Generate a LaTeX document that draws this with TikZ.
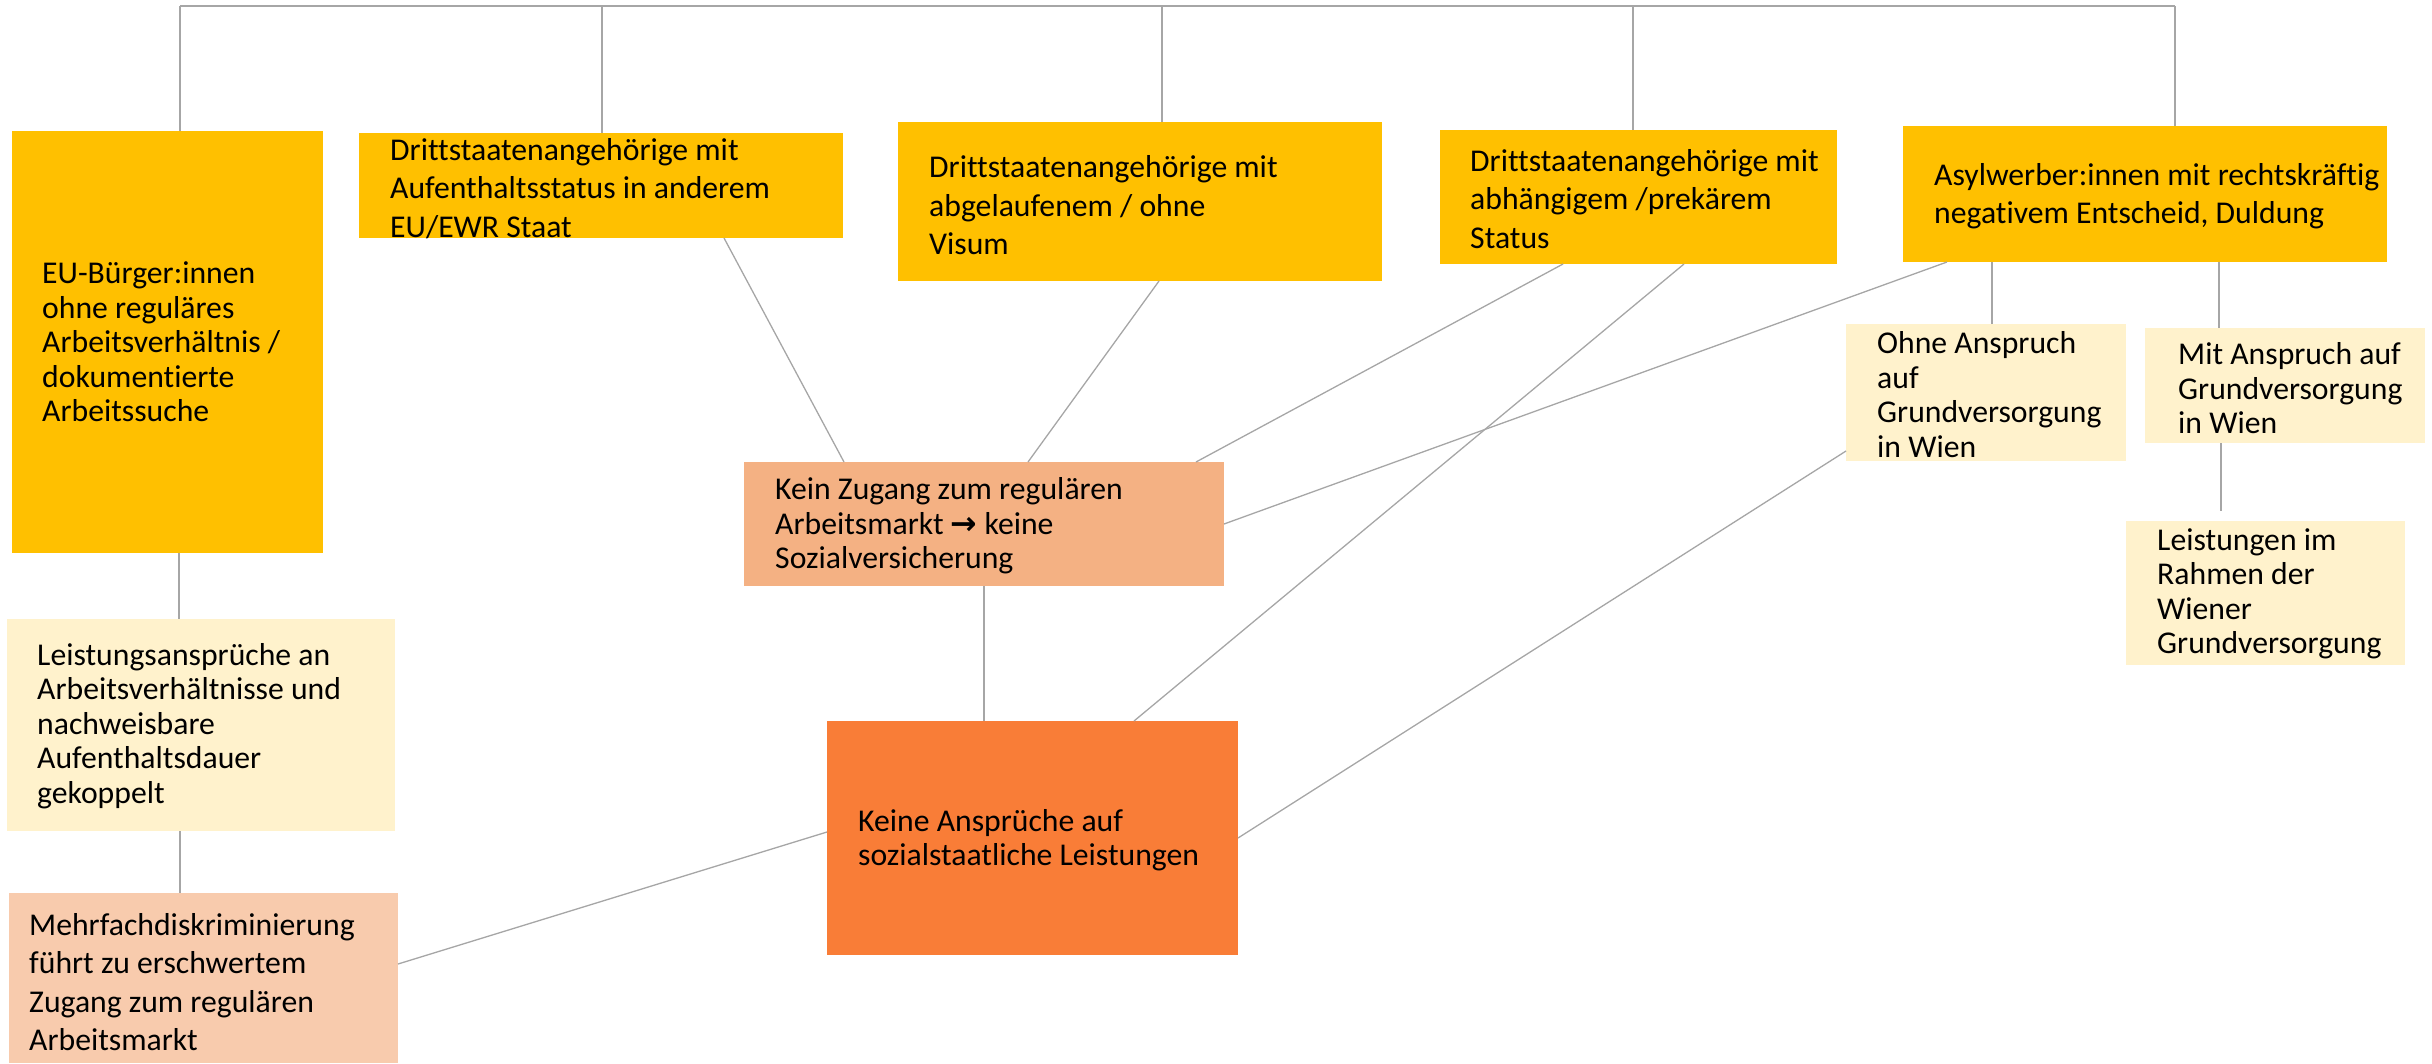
\documentclass[tikz,border=0pt]{standalone}
\usepackage{fontspec}
\setmainfont{Carlito}[Ligatures={NoCommon}]
\newfontfamily\arrowfont{DejaVu Sans}
\usetikzlibrary{calc}
\definecolor{gold}{HTML}{FFC000}
\definecolor{cream}{HTML}{FFF2CC}
\definecolor{peach}{HTML}{F4B183}
\definecolor{salmon}{HTML}{F8CBAD}
\definecolor{deeporange}{HTML}{F97D37}
\definecolor{linegray}{HTML}{A6A6A6}
\tikzset{
  box/.style={rectangle, inner sep=0pt, outer sep=0pt, anchor=north west, draw=none},
  lbl/.style={anchor=west, inner sep=0pt, align=left, font=\fontsize{31.7}{34.5}\selectfont},
  lblw/.style={lbl, font=\fontsize{31.7}{38.5}\selectfont},
  conn/.style={draw=linegray, line width=1.3pt},
  topbar/.style={draw=linegray, line width=2.4pt},
}
\begin{document}
\begin{tikzpicture}[x=1pt, y=-1pt]
\useasboundingbox (0,0) rectangle (2432,1063);

% boxes
\node[box, fill=gold, minimum width=311pt, minimum height=422pt] (eu) at (12,131) {};
\node[box, fill=gold, minimum width=484pt, minimum height=105pt] (d1) at (359,133) {};
\node[box, fill=gold, minimum width=484pt, minimum height=159pt] (d2) at (898,122) {};
\node[box, fill=gold, minimum width=397pt, minimum height=134pt] (d3) at (1440,130) {};
\node[box, fill=gold, minimum width=484pt, minimum height=136pt] (asyl) at (1903,126) {};
\node[box, fill=peach, minimum width=480pt, minimum height=124pt] (kz) at (744,462) {};
\node[box, fill=deeporange, minimum width=411pt, minimum height=234pt] (ka) at (827,721) {};
\node[box, fill=cream, minimum width=388pt, minimum height=212pt] (la) at (7,619) {};
\node[box, fill=salmon, minimum width=389pt, minimum height=170pt] (mf) at (9,893) {};
\node[box, fill=cream, minimum width=280pt, minimum height=137pt] (ohne) at (1846,324) {};
\node[box, fill=cream, minimum width=280pt, minimum height=115pt] (mit) at (2145,328) {};
\node[box, fill=cream, minimum width=279pt, minimum height=144pt] (lr) at (2126,521) {};

% texts
\node[lbl] (eut) at ([xshift=30pt]eu.west) {EU-Bürger:innen\\ohne reguläres\\Arbeitsverhältnis /\\dokumentierte\\Arbeitssuche};
\node[lblw] (d1t) at ([xshift=31pt,yshift=-3pt]d1.west) {Drittstaatenangehörige mit\\Aufenthaltsstatus in anderem\\EU/EWR Staat};
\node[lblw] (d2t) at ([xshift=31pt,yshift=-4pt]d2.west) {Drittstaatenangehörige mit\\abgelaufenem / ohne\\Visum};
\node[lblw] (d3t) at ([xshift=30pt,yshift=-2pt]d3.west) {Drittstaatenangehörige mit\\abhängigem /prekärem\\Status};
\node[lblw] (asylt) at ([xshift=31pt,yshift=-2pt]asyl.west) {Asylwerber:innen mit rechtskräftig\\negativem Entscheid, Duldung};
\node[lbl] (kzt) at ([xshift=31pt,yshift=-2pt]kz.west) {Kein Zugang zum regulären\\Arbeitsmarkt {\arrowfont\bfseries →} keine\\Sozialversicherung};
\node[lbl] (kat) at ([xshift=31pt,yshift=-2pt]ka.west) {Keine Ansprüche auf\\sozialstaatliche Leistungen};
\node[lbl] (lat) at ([xshift=30pt,yshift=-1pt]la.west) {Leistungsansprüche an\\Arbeitsverhältnisse und\\nachweisbare\\Aufenthaltsdauer\\gekoppelt};
\node[lblw] (mft) at ([xshift=20pt,yshift=-4pt]mf.west) {Mehrfachdiskriminierung\\führt zu erschwertem\\Zugang zum regulären\\Arbeitsmarkt};
\node[lbl] (ohnet) at ([xshift=31pt,yshift=-2pt]ohne.west) {Ohne Anspruch\\auf\\Grundversorgung\\in Wien};
\node[lbl] (mitt) at ([xshift=33pt,yshift=-3pt]mit.west) {Mit Anspruch auf\\Grundversorgung\\in Wien};
\node[lbl] (lrt) at ([xshift=31pt,yshift=-1pt]lr.west) {Leistungen im\\Rahmen der\\Wiener\\Grundversorgung};

% top bar
\coordinate (t1) at (180,6);
\coordinate (t2) at (602,6);
\coordinate (t3) at (1162,6);
\coordinate (t4) at (1633,6);
\coordinate (t5) at (2175,6);
\draw[topbar] (t1) -- (t5);
\draw[conn] (t1) -- (t1 |- eu.north);
\draw[conn] (t2) -- (t2 |- d1.north);
\draw[conn] (t3) -- (t3 |- d2.north);
\draw[conn] (t4) -- (t4 |- d3.north);
\draw[conn] (t5) -- (t5 |- asyl.north);

% left column
\draw[conn] ([xshift=167pt]eu.south west) -- ([xshift=172pt]la.north west);
\draw[conn] ([xshift=173pt]la.south west) -- ([xshift=171pt]mf.north west);
\draw[conn] ([yshift=14pt]mf.east) -- ([yshift=6pt]ka.west);

% into Kein Zugang
\draw[conn] ([xshift=365pt]d1.south west) -- ([xshift=100pt]kz.north west);
\draw[conn] ([xshift=261pt]d2.south west) -- ([xshift=284pt]kz.north west);
\draw[conn] ([xshift=123pt]d3.south west) -- ([xshift=452pt]kz.north west);
\draw[conn] ([xshift=44pt]asyl.south west) -- (kz.east);
\draw[conn] (kz.south) -- (kz.south |- ka.north);

% into Keine Ansprueche
\draw[conn] ([xshift=244pt]d3.south west) -- ([xshift=307pt]ka.north west);
\draw[conn] ([yshift=10pt]ohne.south west) -- (ka.east);

% Asyl branches
\draw[conn] ([xshift=89pt]asyl.south west) -- ([xshift=146pt]ohne.north west);
\draw[conn] ([xshift=316pt]asyl.south west) -- ([xshift=74pt]mit.north west);
\draw[conn] ([xshift=76pt]mit.south west) -- ([xshift=95pt,yshift=10pt]lr.north west);
\end{tikzpicture}
\end{document}
